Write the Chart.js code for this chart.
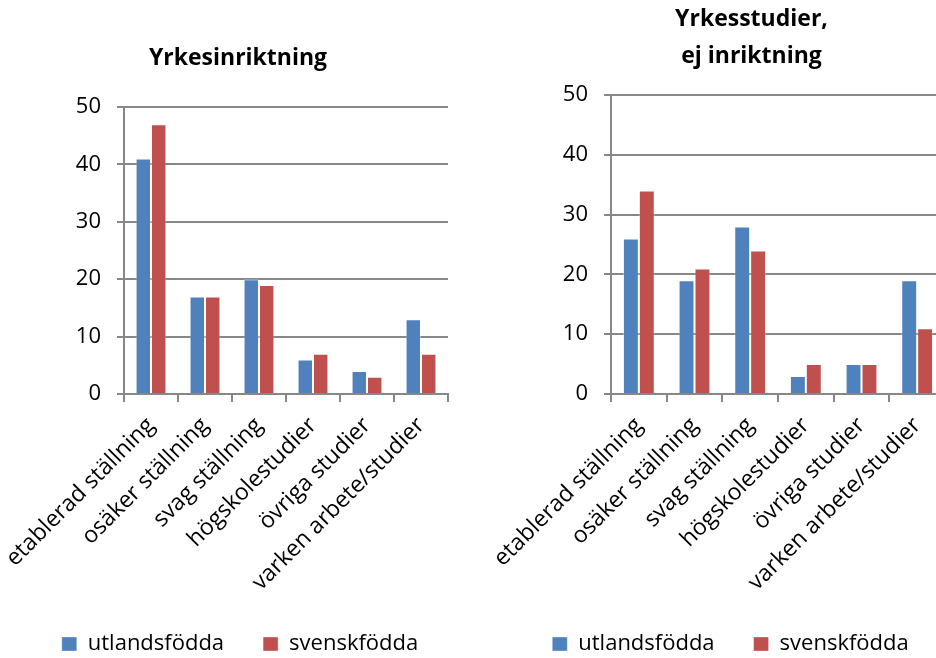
<!DOCTYPE html>
<html>
<head>
<meta charset="utf-8">
<script src="https://cdn.jsdelivr.net/npm/chart.js@4/dist/chart.umd.min.js"></script>
<style>
  html, body { margin: 0; padding: 0; background: #fff; overflow: hidden; width: 936px; height: 658px; }
  #wrapL { position: absolute; left: 0; top: 0; width: 480px; height: 658px; }
  #wrapR { position: absolute; left: 460px; top: 0; width: 544px; height: 658px; }
</style>
</head>
<body>
<div id="wrapL"><canvas id="cL"></canvas></div>
<div id="wrapR"><canvas id="cR"></canvas></div>
<script>
const categories = ["etablerad ställning", "osäker ställning", "svag ställning", "högskolestudier", "övriga studier", "varken arbete/studier"];
const seriesNames = ["utlandsfödda", "svenskfödda"];
const leftTitle = "Yrkesinriktning";
const leftUtlandsfodda = [41, 17, 20, 6, 4, 13];
const leftSvenskfodda  = [47, 17, 19, 7, 3, 7];
const rightTitle = ["Yrkesstudier,", "ej inriktning"];
const rightUtlandsfodda = [26, 19, 28, 3, 5, 19];
const rightSvenskfodda  = [34, 21, 24, 5, 5, 11];
const yTicks = [0, 10, 20, 30, 40, 50];

const FONT = "'Open Sans'";
const BLUE = "#4F81BD", RED = "#C0504D", GRID = "#878787";

function makeChart(id, title, s1, s2, cfg) {
  const boxShift = {
    id: 'boxShift',
    afterLayout(chart) {
      const t = chart.titleBlock;
      if (t) { t.left += cfg.titleDx; t.right += cfg.titleDx; }
      const l = chart.legend;
      if (l) { l.left += cfg.legendDx; l.right += cfg.legendDx; l.top += cfg.legendDy; l.bottom += cfg.legendDy; }
      // let rotated category labels run past the axis box instead of being clipped
      const x = chart.scales.x;
      if (x) { x.bottom += 60; }
    }
  };
  return new Chart(document.getElementById(id), {
    type: 'bar',
    data: {
      labels: categories,
      datasets: [
        { label: seriesNames[0], data: s1, backgroundColor: BLUE, borderColor: 'rgba(255,255,255,0.35)', borderWidth: 1 },
        { label: seriesNames[1], data: s2, backgroundColor: RED, borderColor: 'rgba(255,255,255,0.35)', borderWidth: 1 }
      ]
    },
    plugins: [boxShift],
    options: {
      responsive: true,
      maintainAspectRatio: false,
      animation: false,
      events: [],
      layout: { padding: { left: 0, right: cfg.padRight, top: 0, bottom: 0 } },
      datasets: { bar: { categoryPercentage: 0.572, barPercentage: 1.0 } },
      plugins: {
        tooltip: { enabled: false },
        title: {
          display: true,
          text: title,
          color: '#000',
          font: { family: FONT, size: 23, weight: 'bold', lineHeight: 1.65 },
          padding: { top: cfg.titleTop, bottom: cfg.titleBottom }
        },
        legend: {
          display: true,
          position: 'bottom',
          labels: {
            color: '#000',
            font: { family: FONT, size: 22 },
            boxWidth: 15,
            boxHeight: 14,
            padding: 39
          }
        }
      },
      scales: {
        x: {
          ticks: {
            color: '#000',
            font: { family: FONT, size: 23 },
            maxRotation: 45,
            minRotation: 45,
            autoSkip: false,
            padding: 10
          },
          grid: {
            offset: true,
            drawOnChartArea: false,
            drawTicks: true,
            tickLength: 8,
            color: GRID,
            lineWidth: 2
          },
          border: { display: true, color: GRID, width: 2 },
          afterFit(s) { s.height = cfg.xHeight; s.paddingLeft = 0; s.paddingRight = 0; }
        },
        y: {
          min: 0,
          max: 50,
          afterBuildTicks(s) { s.ticks = yTicks.map(v => ({ value: v })); },
          ticks: {
            color: '#000',
            font: { family: FONT, size: 22 },
            padding: 16
          },
          grid: {
            color: GRID,
            lineWidth: 2,
            drawTicks: true,
            tickLength: 7
          },
          border: { display: true, color: GRID, width: 2 },
          afterFit(s) { s.width = cfg.yWidth; }
        }
      }
    }
  });
}

makeChart('cL', leftTitle, leftUtlandsfodda, leftSvenskfodda,
  { yWidth: 124, padRight: 32, xHeight: 193, titleTop: 39, titleBottom: 30, titleDx: 14, legendDx: 16, legendDy: 7 });
makeChart('cR', rightTitle, rightUtlandsfodda, rightSvenskfodda,
  { yWidth: 151, padRight: 59, xHeight: 193, titleTop: 0, titleBottom: 19, titleDx: 49, legendDx: 28, legendDy: 7 });
</script>
</body>
</html>
